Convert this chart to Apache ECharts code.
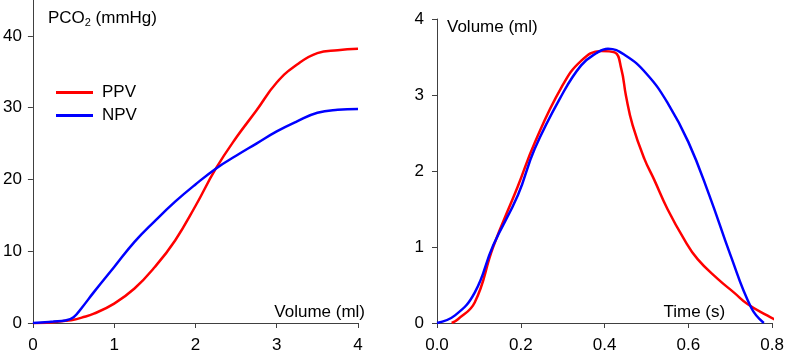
<!DOCTYPE html>
<html>
<head>
<meta charset="utf-8">
<script src="https://cdn.jsdelivr.net/npm/echarts@6/dist/echarts.min.js"></script>
<style>
  html, body { margin: 0; padding: 0; background: #fff; }
  #chart { width: 787px; height: 354px; }
</style>
</head>
<body>
<div id="chart"></div>
<script>
// left panel: PCO2 vs expired volume
const volume = [0, 0.25, 0.4, 0.5, 0.6, 0.75, 1.0, 1.25, 1.5, 1.75, 2.0, 2.25, 2.5, 2.75, 3.0, 3.25, 3.5, 3.75, 4.0];
const pco2PPV = [-0.1, 0.1, 0.3, 0.45, 0.75, 1.3, 2.7, 4.8, 7.8, 11.5, 16.3, 21.5, 25.8, 29.6, 33.5, 36.0, 37.6, 38.0, 38.2];
const pco2NPV = [0, 0.2, 0.35, 0.8, 2.1, 4.3, 7.8, 11.3, 14.2, 16.9, 19.3, 21.5, 23.3, 25.0, 26.7, 28.1, 29.3, 29.7, 29.8];

// right panel: volume vs time
const timePPV = [0.035, 0.05, 0.09, 0.134, 0.193, 0.233, 0.297, 0.344, 0.392, 0.424, 0.44, 0.451, 0.467, 0.495, 0.518, 0.55, 0.59, 0.622, 0.67, 0.709, 0.741, 0.788, 0.816];
const volPPV = [0, 0.05, 0.27, 1.0, 1.8, 2.37, 3.1, 3.45, 3.58, 3.56, 3.34, 2.99, 2.6, 2.16, 1.89, 1.5, 1.1, 0.84, 0.58, 0.4, 0.25, 0.1, 0.02];
const timeNPV = [0, 0.043, 0.09, 0.134, 0.193, 0.233, 0.297, 0.344, 0.38, 0.408, 0.45, 0.5, 0.55, 0.6, 0.65, 0.7, 0.75, 0.78];
const volNPV = [0, 0.1, 0.4, 1.02, 1.68, 2.29, 2.99, 3.39, 3.55, 3.61, 3.52, 3.28, 2.9, 2.38, 1.68, 0.9, 0.2, 0];

const pcoTicks = [0, 10, 20, 30, 40];

const font = "'Liberation Sans', Arial, sans-serif";
const axisColor = '#404040';

function pairs(xs, ys) {
  return xs.map((x, i) => [x, ys[i]]);
}

const chart = echarts.init(document.getElementById('chart'));

function baseAxis() {
  return {
    type: 'value',
    splitLine: { show: false },
    axisLine: { show: true, onZero: false, lineStyle: { color: axisColor, width: 1 } },
    axisTick: { show: true, length: 5, lineStyle: { color: axisColor } },
    axisLabel: { color: '#000', fontSize: 17, fontFamily: font },
    nameTextStyle: { color: '#000', fontSize: 17, fontFamily: font }
  };
}

function curve(name, xIdx, xs, ys, color) {
  return {
    name, type: 'line', xAxisIndex: xIdx, yAxisIndex: xIdx,
    data: pairs(xs, ys), smooth: 0.45, symbol: 'none',
    lineStyle: { color, width: 2.5 }, itemStyle: { color }
  };
}

chart.setOption({
  animation: false,
  textStyle: { fontFamily: font },
  grid: [
    { left: 32, width: 326, top: 0, height: 324 },
    { left: 437, width: 338, top: 19, height: 305 }
  ],
  legend: {
    orient: 'vertical',
    left: 51,
    top: 79,
    icon: 'rect',
    itemWidth: 37,
    itemHeight: 3,
    itemGap: 6,
    data: ['PPV', 'NPV'],
    textStyle: { fontSize: 17, fontFamily: font, color: '#000', padding: [0, 0, 0, 4] }
  },
  xAxis: [
    {
      ...baseAxis(),
      gridIndex: 0,
      min: 0,
      max: 4,
      interval: 1,
      axisLabel: { ...baseAxis().axisLabel, margin: 14 },
      name: 'Volume (ml)',
      nameLocation: 'end',
      nameGap: 7,
      nameTextStyle: { ...baseAxis().nameTextStyle, align: 'right', verticalAlign: 'bottom', padding: [0, 0, 2, 0] }
    },
    {
      ...baseAxis(),
      gridIndex: 1,
      min: 0,
      max: 0.8,
      interval: 0.2,
      axisLabel: { ...baseAxis().axisLabel, margin: 14, formatter: v => v.toFixed(1) },
      name: 'Time (s)',
      nameLocation: 'end',
      nameGap: -47,
      nameTextStyle: { ...baseAxis().nameTextStyle, align: 'right', verticalAlign: 'bottom', padding: [0, 0, 2, 0] }
    }
  ],
  yAxis: [
    {
      ...baseAxis(),
      gridIndex: 0,
      min: 0,
      max: 45,
      interval: 10,
      axisTick: { ...baseAxis().axisTick, customValues: pcoTicks },
      axisLabel: { ...baseAxis().axisLabel, margin: 11, customValues: pcoTicks },
      name: 'PCO{sub|2} (mmHg)',
      nameLocation: 'end',
      nameGap: -18,
      nameTextStyle: {
        ...baseAxis().nameTextStyle,
        align: 'left',
        verticalAlign: 'middle',
        padding: [0, 0, 0, 15],
        rich: { sub: { fontSize: 11, fontFamily: font, color: '#000', verticalAlign: 'bottom', padding: [9, 0, 0, 0] } }
      }
    },
    {
      ...baseAxis(),
      gridIndex: 1,
      min: 0,
      max: 4,
      interval: 1,
      axisLabel: { ...baseAxis().axisLabel, margin: 13 },
      name: 'Volume (ml)',
      nameLocation: 'end',
      nameGap: -8,
      nameTextStyle: { ...baseAxis().nameTextStyle, align: 'left', verticalAlign: 'middle', padding: [0, 0, 0, 10] }
    }
  ],
  series: [
    curve('PPV', 0, volume, pco2PPV, '#ff0000'),
    curve('NPV', 0, volume, pco2NPV, '#0000ff'),
    curve('PPV', 1, timePPV, volPPV, '#ff0000'),
    curve('NPV', 1, timeNPV, volNPV, '#0000ff')
  ]
});
</script>
</body>
</html>
